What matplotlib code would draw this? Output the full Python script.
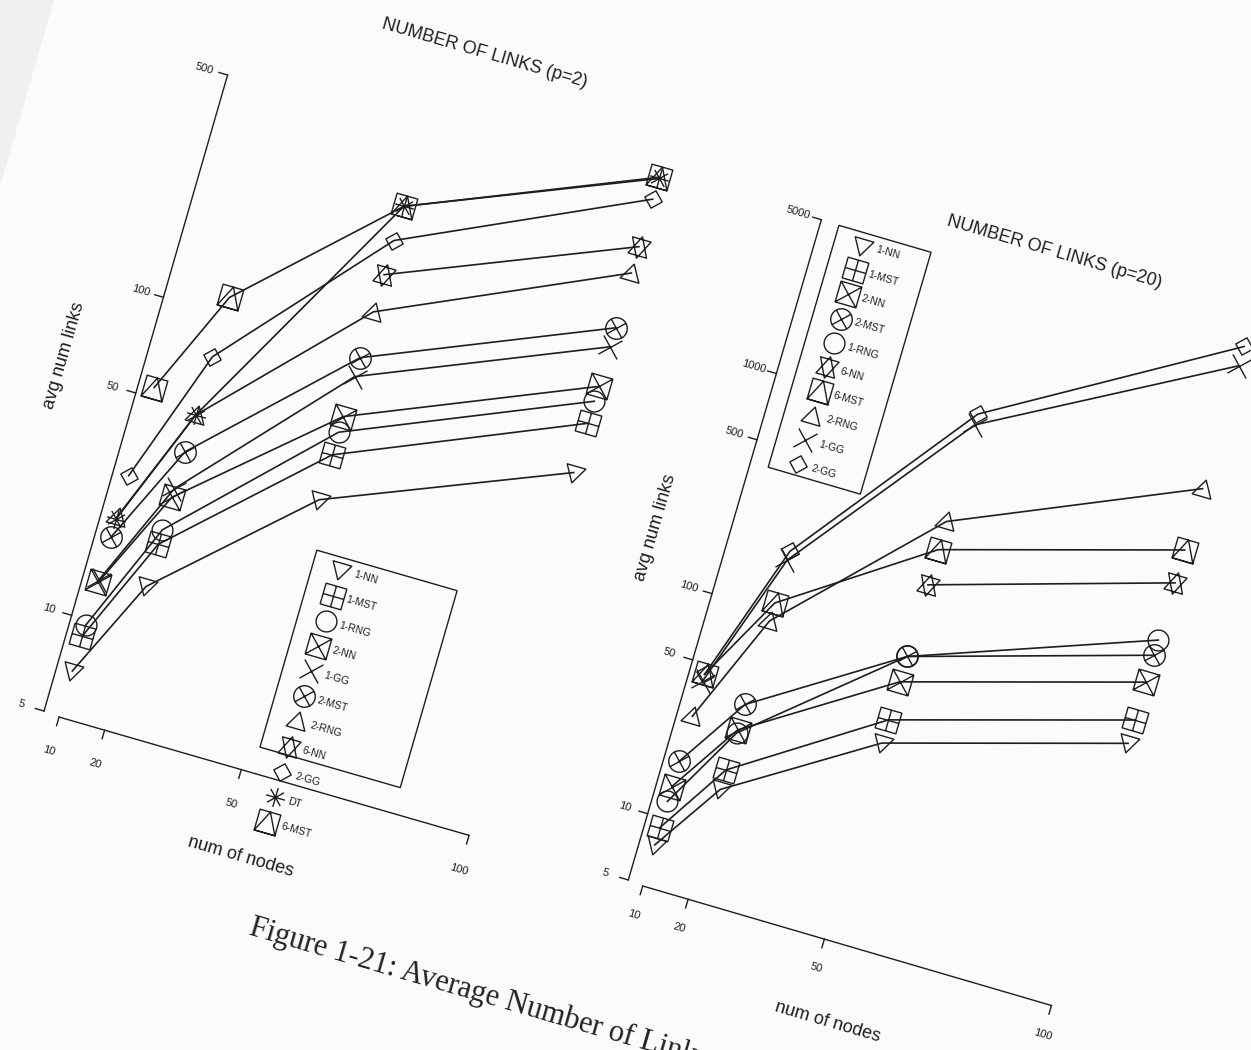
import numpy as np
import matplotlib
matplotlib.use("Agg")
import matplotlib.pyplot as plt
from matplotlib.path import Path
from matplotlib.markers import MarkerStyle
from matplotlib.patches import Polygon, Rectangle
from matplotlib.scale import LogTransform
from matplotlib.transforms import Affine2D, IdentityTransform, blended_transform_factory

plt.rcParams["font.family"] = ["Liberation Sans", "DejaVu Sans"]

INK = "#1e1e1e"
PAPER = "#fbfbfb"
nan = np.nan

NODES = [10, 20, 50, 100]
X_TICKS = [10, 20, 50, 100]

# average number of links, p = 2
p2_1nn = [6.9, 14.0, 34.9, 68.4]
p2_1mst = [8.9, 19.0, 48.3, 97.7]
p2_1rng = [9.6, 21.1, 56.9, 114.6]
p2_2nn = [13.1, 26.7, 63.7, 127.6]
p2_1gg = [13.3, 28.4, 85.1, 170.0]
p2_2mst = [18.2, 37.1, 97.6, 195.0]
p2_2rng = [21.0, 48.4, 136.0, 290.0]
p2_6nn = [nan, nan, 178.0, 351.0]
p2_2gg = [28.4, 73.8, 228.0, 495.0]
p2_dt = [20.8, 48.4, 292.0, 575.0]
p2_6mst = [53.7, 113.5, 292.0, 580.0]
P2_Y_TICKS = [5, 10, 50, 100, 500]

# average number of links, p = 20
p20_1nn = [7.55, 15.5, 38.2, 76.3]
p20_1mst = [9.04, 19.0, 48.7, 97.4]
p20_2nn = [13.9, 28.9, 72.5, 144.8]
p20_2mst = [18.1, 37.7, 94.5, 191.8]
p20_1rng = [11.9, 28.0, 94.5, 224.8]
p20_6nn = [nan, nan, 200.0, 409.0]
p20_6mst = [45.0, 109.0, 289.0, 577.0]
p20_2rng = [29.0, 90.3, 388.0, 1096.0]
p20_1gg = [42.0, 171.0, 1066.0, 3962.0]
p20_2gg = [45.0, 187.0, 1194.0, 4850.0]
P20_Y_TICKS = [5, 10, 50, 100, 500, 1000, 5000]

P2 = {"1-NN": p2_1nn, "1-MST": p2_1mst, "1-RNG": p2_1rng, "2-NN": p2_2nn,
      "1-GG": p2_1gg, "2-MST": p2_2mst, "2-RNG": p2_2rng, "6-NN": p2_6nn,
      "2-GG": p2_2gg, "DT": p2_dt, "6-MST": p2_6mst}
P20 = {"1-NN": p20_1nn, "1-MST": p20_1mst, "2-NN": p20_2nn, "2-MST": p20_2mst,
       "1-RNG": p20_1rng, "6-NN": p20_6nn, "6-MST": p20_6mst, "2-RNG": p20_2rng,
       "1-GG": p20_1gg, "2-GG": p20_2gg}


# S-style plotting symbols built as open paths
def _poly(*pts):
    return list(pts) + [pts[0]], [Path.MOVETO] + [Path.LINETO] * (len(pts) - 1) + [Path.CLOSEPOLY]


def _seg(a, b):
    return [a, b], [Path.MOVETO, Path.LINETO]


def _circle():
    c = Path.unit_circle()
    return [tuple(v) for v in c.vertices], list(c.codes)


def _join(*parts):
    verts, codes = [], []
    for v, c in parts:
        verts += list(v)
        codes += list(c)
    return Path(verts, codes)


D = 0.7071
SQUARE = _poly((-1, -1), (1, -1), (1, 1), (-1, 1))
CROSS = [_seg((-1, -1), (1, 1)), _seg((-1, 1), (1, -1))]
SYMBOLS = {
    "1-NN": (_join(_poly((-1, 0.75), (1, 0.75), (0, -1))), 14),
    "2-RNG": (_join(_poly((-1, -0.75), (1, -0.75), (0, 1))), 14),
    "1-RNG": (_join(_circle()), 15),
    "1-MST": (_join(SQUARE, _seg((0, -1), (0, 1)), _seg((-1, 0), (1, 0))), 15.5),
    "2-NN": (_join(SQUARE, *CROSS), 15.5),
    "2-MST": (_join(_circle(), _seg((-D, -D), (D, D)), _seg((-D, D), (D, -D))), 15.5),
    "1-GG": (_join(*CROSS), 14),
    "6-NN": (_join(_poly((0, -1), (0.866, 0.75), (-0.866, 0.75)),
                   _poly((0, 1), (0.866, -0.75), (-0.866, -0.75))), 16),
    "2-GG": (_join(_poly((0, 1), (1, 0), (0, -1), (-1, 0))), 13),
    "DT": (_join(_seg((0, -1), (0, 1)), _seg((-1, 0), (1, 0)),
                 _seg((-D, -D), (D, D)), _seg((-D, D), (D, -D))), 14),
    "6-MST": (_join(SQUARE, _poly((-1, -1), (0, 1), (1, -1))), 15.5),
}

TICK = 9


def marker(name, angle):
    path, ms = SYMBOLS[name]
    return MarkerStyle(path, transform=Affine2D().rotate_deg(angle)), ms


def draw_panel(ax, series, y_ticks, p, title):
    ox, oy = p["origin"]
    ang, sx, sy = p["angle"], p["sx"], p["sy"]
    log_y = blended_transform_factory(IdentityTransform(), LogTransform(10))
    place = Affine2D().translate(-10, -np.log10(5)).scale(sx, sy).rotate_deg(ang).translate(ox, oy)
    tr = log_y + place + ax.transData
    frame = Affine2D().rotate_deg(ang).translate(ox, oy) + ax.transData
    txt = dict(rotation=ang, rotation_mode="anchor", color=INK)

    # axes, S style: lines only span the tick range
    ln = dict(color=INK, lw=1.0, transform=tr)
    xl, yl = p["x_line"], p["y_line"]
    ax.plot([X_TICKS[0], X_TICKS[-1]], [xl, xl], **ln)
    for t in X_TICKS:
        ax.plot([t, t], [xl, xl * 10 ** (-TICK / sy)], **ln)
        ax.text(t, xl * 10 ** (-p["xlab_gap"] / sy), str(t), transform=tr,
                ha="center", va="center", fontsize=8, **txt)
    ax.plot([yl, yl], [y_ticks[0], y_ticks[-1]], **ln)
    for t in y_ticks:
        ax.plot([yl, yl - TICK / sx], [t, t], **ln)
        ax.text(yl - 24 / sx, t, str(t), transform=tr,
                ha="center", va="center", fontsize=8, **txt)

    for name, vals in series.items():
        mk, ms = marker(name, ang)
        ax.plot(NODES, vals, color=INK, lw=1.2, marker=mk, ms=ms, mfc="none",
                mec=INK, mew=1.0, transform=tr)

    ax.text(*p["title"], title, transform=frame, ha="center", va="baseline", fontsize=13, **txt)
    ax.text(*p["xlabel"], "num of nodes", transform=frame, ha="center", va="center", fontsize=13, **txt)
    ax.text(*p["ylabel"], "avg num links", transform=frame, ha="center", va="center",
            fontsize=13, rotation=90 + ang, rotation_mode="anchor", color=INK)

    # legend box, entries past the box run on below it
    lx, ly = p["legend"]
    w, h = p["legend_size"]
    ax.add_patch(Rectangle((lx, ly - h), w, h, fill=False, ec=INK, lw=1.0, transform=frame))
    for i, name in enumerate(series):
        mx, my = lx + 28, ly - 13 - i * p["step"]
        mk, ms = marker(name, ang)
        ax.plot([mx], [my], ls="none", marker=mk, ms=ms, mfc="none", mec=INK, mew=1.0, transform=frame)
        ax.text(mx + 14, my, name, transform=frame, ha="left", va="center", fontsize=7.5, **txt)


fig = plt.figure(figsize=(12.51, 10.5), dpi=100, facecolor=PAPER)
ax = fig.add_axes([0, 0, 1, 1])
ax.set_xlim(0, 1251)
ax.set_ylim(0, 1050)
ax.axis("off")

# scanner bed showing past the page corner
ax.add_patch(Polygon([(0, 1050), (54, 1050), (0, 863)], closed=True, fc="#f0f0f0", ec="none"))

left = dict(origin=(59.5, 334.5), angle=-16.1, sx=4.741, sy=331.0,
            x_line=4.945, y_line=6.6, xlab_gap=35.5,
            title=(224.9, 749.2), xlabel=(213.6, -85.7), ylabel=(-95.3, 346.7),
            legend=(201.4, 230.2), legend_size=(146, 205), step=26.2)
right = dict(origin=(643.2, 165.7), angle=-16.3, sx=4.732, sy=229.3,
             x_line=4.913, y_line=6.72, xlab_gap=30.0,
             title=(216.9, 717.5), xlabel=(215.9, -80.6), ylabel=(-88.4, 346.3),
             legend=(2.9, 687.4), legend_size=(96, 252), step=25.3)

draw_panel(ax, P2, P2_Y_TICKS, left, "NUMBER OF LINKS (p=2)")
draw_panel(ax, P20, P20_Y_TICKS, right, "NUMBER OF LINKS (p=20)")

# caption runs off the bottom of the page as scanned
ax.text(248, 116, "Figure 1-21: Average Number of Links", rotation=-16.2,
        rotation_mode="anchor", ha="left", va="baseline", fontsize=22,
        family=["Liberation Serif", "DejaVu Serif"], color="#222222")

fig.savefig("out.png", dpi=100, facecolor=PAPER)
